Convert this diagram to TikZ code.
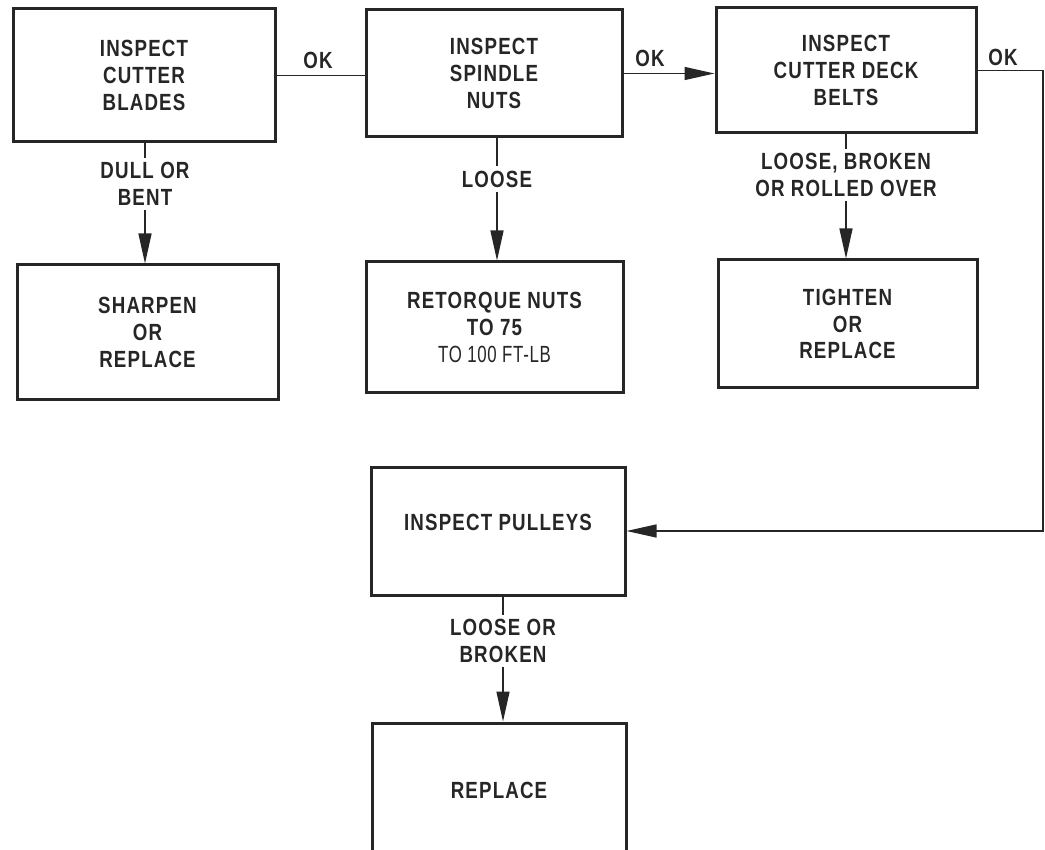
\documentclass[tikz,border=0pt]{standalone}
\usepackage{fontspec}
\setmainfont{Liberation Sans}[FakeStretch=0.8, LetterSpace=5]
\newfontfamily\narrowfont{Liberation Sans}[FakeStretch=0.72, LetterSpace=3]
\usetikzlibrary{arrows.meta}
\colorlet{ink}{black!85}
\begin{document}
\begin{tikzpicture}[x=0.5pt, y=-0.5pt, >={Triangle[length=15pt,width=6.5pt]},
    box/.style={draw=ink, text=ink, line width=1.5pt, align=center, inner sep=0pt,
      font=\bfseries\fontsize{11.7}{13.3}\selectfont},
    cond/.style={text=ink, align=center, inner sep=2pt,
      font=\bfseries\fontsize{11.7}{13.3}\selectfont},
    flow/.style={draw=ink, line width=0.7pt}]
    \useasboundingbox (0, 0) rectangle (1045, 850);

    \node[box, minimum width=131pt, minimum height=66.5pt] (blades) at (144, 75.5) {INSPECT\\CUTTER\\BLADES};
    \node[box, minimum width=128pt, minimum height=63.5pt] (spindle) at (494, 73.5) {INSPECT\\SPINDLE\\NUTS};
    \node[box, minimum width=130pt, minimum height=62.5pt] (belts) at (846, 70.5) {INSPECT\\CUTTER DECK\\BELTS};
    \node[box, minimum width=130.5pt, minimum height=67.5pt] (sharpen) at (147.5, 332.5) {SHARPEN\\OR\\REPLACE};
    \node[box, minimum width=128.5pt, minimum height=65.5pt] (retorque) at (494.5, 327.5) {RETORQUE NUTS\\TO 75\\{\narrowfont\mdseries TO 100 FT-LB}};
    \node[box, minimum width=129.5pt, minimum height=64pt] (tighten) at (847.5, 324) {TIGHTEN\\OR\\REPLACE};
    \node[box, minimum width=127pt, minimum height=64pt, text height=8.5pt, text depth=9pt] (pulleys) at (498, 531) {INSPECT PULLEYS};
    \node[box, minimum width=127pt, minimum height=67pt] (replace) at (499, 790) {REPLACE};

    \node[cond] (ok1) at (318, 60) {OK};
    \node[cond] (ok2) at (650, 58) {OK};
    \node[cond] (ok3) at (1003, 57) {OK};
    \node[cond] (dull) at (145, 184) {DULL OR\\BENT};
    \node[cond] (loose) at (497, 179) {LOOSE};
    \node[cond] (rolled) at (846, 175) {LOOSE, BROKEN\\OR ROLLED OVER};
    \node[cond] (broken) at (503, 641) {LOOSE OR\\BROKEN};
    \coordinate (turn) at (1043, 300);

    \draw[flow] (blades.east) -- (blades.east -| spindle.west);
    \draw[flow, ->] (spindle.east) -- (spindle.east -| belts.west);
    \draw[flow, ->] (belts.east) -| (turn) |- (pulleys.east);

    \draw[flow] (blades.south -| dull) -- (dull.north);
    \draw[flow, ->] (dull.south) -- (dull.south |- sharpen.north);
    \draw[flow] (spindle.south -| loose) -- (loose.north);
    \draw[flow, ->] (loose.south) -- (loose.south |- retorque.north);
    \draw[flow] (belts.south -| rolled) -- (rolled.north);
    \draw[flow, ->] (rolled.south) -- (rolled.south |- tighten.north);
    \draw[flow] (pulleys.south -| broken) -- (broken.north);
    \draw[flow, ->] (broken.south) -- (broken.south |- replace.north);
\end{tikzpicture}
\end{document}
